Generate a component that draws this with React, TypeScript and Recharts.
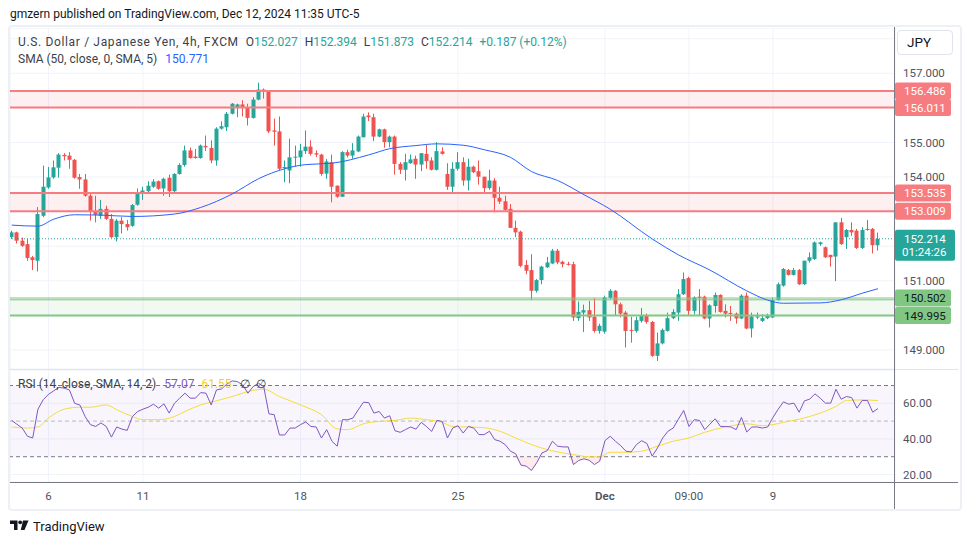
import React from 'react';
import { ComposedChart, Bar, Line, Area, XAxis, YAxis, CartesianGrid, ReferenceLine, ReferenceArea } from 'recharts';

const FONT = 'Roboto, "Noto Sans", sans-serif';

// USD/JPY 4h candles, Nov 4 21:00 -> Dec 12 09:00
const opens = [
  152.26, 152.40, 152.16, 152.06, 151.68, 151.58, 152.88, 153.70, 153.99, 154.27,
  154.64, 154.62, 154.50, 154.00, 153.93, 153.46, 153.01, 152.88, 153.08, 152.79,
  152.26, 152.74, 152.64, 152.59, 153.20, 153.51, 153.59, 153.72, 153.88, 153.67,
  153.98, 153.59, 154.09, 154.35, 154.77, 154.59, 154.55, 154.90, 154.84, 154.48,
  155.40, 155.44, 155.83, 156.00, 156.10, 156.02, 155.71, 156.24, 156.53, 156.46,
  155.35, 155.32, 154.27, 154.19, 154.57, 154.57, 154.75, 154.88, 154.69, 154.65,
  154.10, 154.43, 153.75, 153.43, 154.72, 154.62, 154.74, 155.15, 155.78, 155.73,
  155.17, 155.38, 155.01, 155.17, 154.38, 154.21, 154.40, 154.53, 154.36, 154.67,
  154.48, 154.21, 154.74, 154.09, 153.72, 154.24, 154.43, 153.90, 154.30, 154.17,
  154.01, 153.68, 153.90, 153.40, 153.30, 153.08, 152.53, 152.42, 151.46, 151.31,
  150.71, 151.02, 151.39, 151.50, 151.87, 151.55, 151.49, 151.48, 149.92, 150.08,
  150.15, 149.96, 149.55, 149.53, 150.50, 150.71, 150.32, 150.08, 149.58, 149.55,
  149.84, 150.00, 149.81, 148.83, 149.19, 149.55, 149.92, 150.08, 150.61, 151.08,
  150.13, 150.54, 150.54, 149.91, 150.27, 150.59, 150.13, 150.07, 150.05, 149.91,
  150.57, 149.62, 149.94, 149.84, 149.92, 149.94, 150.44, 150.86, 151.31, 151.17,
  151.31, 150.90, 151.58, 151.63, 152.06, 151.97, 151.75, 151.70, 152.69, 152.26,
  152.47, 152.45, 151.95, 152.47, 152.50, 152.027,
];
const highs = [
  152.45, 152.42, 152.25, 152.21, 151.72, 153.13, 154.33, 154.29, 154.48, 154.69,
  154.69, 154.72, 154.52, 154.09, 154.09, 153.51, 153.46, 153.34, 153.17, 152.93,
  152.79, 152.84, 152.76, 153.22, 153.67, 153.72, 153.88, 153.94, 153.90, 153.98,
  154.07, 154.11, 154.40, 154.91, 154.85, 154.81, 154.94, 155.20, 155.06, 155.44,
  155.61, 155.88, 156.14, 156.12, 156.22, 156.12, 156.31, 156.73, 156.56, 156.48,
  155.69, 155.75, 154.48, 155.11, 154.91, 154.96, 155.35, 155.06, 154.77, 154.67,
  154.52, 154.65, 153.76, 154.75, 154.79, 154.98, 155.20, 155.83, 155.87, 155.83,
  155.40, 155.40, 155.20, 155.20, 154.43, 154.67, 154.65, 154.62, 154.69, 154.94,
  154.57, 155.01, 154.86, 154.40, 154.43, 154.72, 154.57, 154.53, 154.33, 154.48,
  154.01, 154.21, 153.97, 153.72, 153.46, 153.22, 152.74, 152.45, 151.60, 151.77,
  151.05, 151.43, 151.69, 151.92, 151.92, 151.58, 151.55, 151.55, 150.40, 150.31,
  150.42, 150.50, 149.76, 150.57, 150.76, 150.73, 150.37, 150.13, 149.96, 149.96,
  150.21, 150.05, 149.84, 149.50, 149.62, 150.08, 150.18, 150.76, 151.24, 151.12,
  150.55, 150.76, 150.57, 150.32, 150.66, 150.61, 150.32, 150.27, 150.08, 150.61,
  150.66, 150.08, 150.08, 150.03, 150.05, 150.52, 150.95, 151.37, 151.34, 151.37,
  151.34, 151.58, 151.82, 152.14, 152.13, 151.99, 151.75, 152.69, 152.82, 152.50,
  152.69, 152.50, 152.55, 152.76, 152.53, 152.394,
];
const lows = [
  152.21, 152.08, 151.98, 151.58, 151.31, 151.27, 152.84, 153.66, 153.95, 153.98,
  154.48, 154.24, 153.95, 153.66, 153.43, 152.74, 152.69, 152.79, 152.76, 152.24,
  152.14, 152.37, 152.45, 152.56, 153.17, 153.34, 153.56, 153.69, 153.63, 153.46,
  153.42, 153.56, 154.07, 154.30, 154.53, 154.53, 154.53, 154.75, 154.40, 154.33,
  155.37, 155.33, 155.81, 155.73, 155.75, 155.49, 155.69, 156.22, 156.27, 155.27,
  154.91, 154.19, 153.85, 153.82, 154.30, 154.30, 154.67, 154.62, 154.58, 154.04,
  153.95, 153.27, 153.40, 153.43, 154.57, 154.53, 154.72, 155.15, 155.62, 155.04,
  155.15, 154.85, 154.86, 154.07, 154.09, 153.90, 154.38, 153.95, 154.17, 154.24,
  154.19, 154.19, 154.65, 153.63, 153.53, 154.19, 153.75, 153.61, 154.11, 153.78,
  153.51, 153.63, 152.98, 153.22, 153.03, 152.53, 152.26, 151.39, 151.19, 150.44,
  150.66, 150.90, 151.37, 151.48, 151.48, 151.39, 151.44, 149.84, 149.84, 149.52,
  149.84, 149.50, 149.47, 149.47, 150.47, 149.99, 149.94, 149.07, 149.21, 149.50,
  149.79, 149.76, 148.80, 148.68, 149.16, 149.53, 149.89, 149.84, 150.59, 149.99,
  150.03, 149.99, 149.89, 149.65, 150.08, 150.08, 149.94, 149.84, 149.76, 149.89,
  149.60, 149.36, 149.89, 149.81, 149.89, 149.92, 150.42, 150.83, 151.15, 151.15,
  150.88, 150.88, 151.53, 151.60, 152.01, 151.66, 151.41, 150.99, 152.04, 151.92,
  152.30, 151.92, 151.92, 152.45, 151.79, 151.873,
];
const closes = [
  152.40, 152.16, 152.01, 151.66, 151.60, 152.93, 153.72, 153.99, 154.28, 154.65,
  154.60, 154.50, 153.98, 153.93, 153.46, 153.01, 152.91, 153.08, 152.79, 152.26,
  152.74, 152.64, 152.55, 153.19, 153.51, 153.61, 153.75, 153.87, 153.66, 153.95,
  153.59, 154.09, 154.35, 154.77, 154.55, 154.55, 154.91, 154.86, 154.48, 155.40,
  155.47, 155.83, 156.12, 156.10, 156.02, 155.71, 156.24, 156.53, 156.48, 155.32,
  155.31, 154.24, 154.29, 154.57, 154.59, 154.77, 154.88, 154.67, 154.65, 154.09,
  154.45, 153.72, 153.43, 154.72, 154.62, 154.77, 155.17, 155.75, 155.73, 155.17,
  155.38, 155.01, 155.17, 154.38, 154.21, 154.43, 154.51, 154.36, 154.69, 154.46,
  154.21, 154.75, 154.67, 153.72, 154.24, 154.43, 153.90, 154.30, 154.14, 154.01,
  153.68, 153.90, 153.40, 153.29, 153.05, 152.53, 152.40, 151.43, 151.29, 150.71,
  151.02, 151.41, 151.53, 151.87, 151.53, 151.48, 151.48, 149.94, 150.10, 150.15,
  149.94, 149.55, 149.70, 150.52, 150.71, 150.32, 150.05, 149.55, 149.56, 149.86,
  150.00, 149.81, 148.83, 149.19, 149.58, 149.92, 150.10, 150.61, 151.05, 150.13,
  150.52, 150.50, 149.91, 150.29, 150.59, 150.10, 150.05, 150.05, 149.91, 150.57,
  149.62, 149.97, 149.97, 149.92, 150.00, 150.44, 150.90, 151.34, 151.17, 151.31,
  150.90, 151.58, 151.68, 152.11, 152.11, 151.68, 151.68, 152.69, 152.06, 152.47,
  152.40, 151.95, 152.47, 152.50, 152.03, 152.214,
];

// SMA(50) read at sample candles
const smaIdx = [0, 5, 8, 12, 17, 23, 31, 36, 42, 47, 52, 56, 61, 68, 72, 77, 81, 86, 90, 95, 99, 104, 109, 114, 122, 127, 133, 140, 144, 147, 154, 158, 162, 165];
const smaVal = [152.61, 152.58, 152.78, 152.91, 152.90, 152.86, 152.93, 153.12, 153.51, 153.95, 154.24, 154.36, 154.40, 154.64, 154.82, 154.91, 154.96, 154.92, 154.79, 154.57, 154.16, 153.90, 153.49, 153.07, 152.21, 151.75, 151.31, 150.71, 150.44, 150.35, 150.36, 150.45, 150.64, 150.771];

const rsiValues = [
  50.4, 48.2, 46.1, 41.5, 40.5, 56.7, 62.0, 65.0, 67.0, 69.0,
  68.5, 67.5, 60.0, 59.0, 52.5, 48.0, 47.0, 49.0, 47.0, 41.0,
  46.7, 45.5, 44.8, 52.6, 55.4, 56.7, 57.8, 59.5, 57.3, 59.7,
  54.5, 60.0, 62.9, 65.7, 62.9, 62.9, 66.0, 65.7, 59.1, 67.5,
  68.1, 70.9, 72.6, 72.2, 70.3, 65.7, 69.4, 71.3, 69.4, 54.1,
  53.6, 42.2, 42.2, 46.1, 46.1, 48.0, 49.5, 47.0, 46.7, 40.5,
  45.2, 38.7, 35.9, 50.8, 50.8, 51.7, 56.3, 60.6, 60.4, 54.5,
  55.4, 51.7, 53.0, 44.6, 43.7, 45.2, 46.7, 45.5, 49.3, 47.0,
  44.2, 50.4, 49.8, 40.5, 46.1, 47.4, 43.3, 47.0, 46.1, 42.4,
  42.4, 44.3, 39.6, 38.7, 36.8, 33.1, 31.6, 25.3, 24.7, 22.3,
  26.6, 32.1, 33.4, 38.7, 35.9, 35.5, 35.5, 25.6, 27.9, 28.8,
  28.0, 25.6, 27.5, 39.0, 41.5, 38.7, 36.2, 33.1, 32.7, 36.8,
  39.0, 37.4, 30.3, 34.9, 40.5, 44.3, 46.1, 51.1, 56.0, 47.0,
  50.8, 50.4, 45.2, 48.3, 51.3, 47.0, 47.0, 46.7, 45.2, 52.1,
  43.9, 46.7, 46.7, 46.1, 46.7, 52.1, 56.7, 60.8, 59.5, 60.1,
  55.0, 61.4, 62.3, 65.3, 62.9, 60.1, 60.1, 67.9, 62.3, 63.8,
  63.2, 57.3, 61.6, 61.6, 55.0, 57.07,
];

// RSI-based MA read at sample candles
const rsiMaIdx = [0, 3, 5, 7, 10, 13, 15, 18, 20, 23, 25, 28, 31, 33, 36, 39, 42, 45, 48, 51, 55, 59, 62, 64, 67, 70, 73, 76, 79, 82, 84, 87, 90, 93, 96, 99, 102, 105, 108, 110, 112, 114, 117, 120, 123, 126, 129, 132, 136, 140, 143, 145, 147, 150, 154, 157, 159, 162, 165];
const rsiMaVal = [46.7, 46.1, 46.7, 51.7, 56.7, 57.8, 57.8, 59.1, 56.4, 52.6, 50.8, 50.8, 52.6, 55.4, 59.1, 61.4, 63.8, 66.6, 67.9, 63.8, 59.1, 53.6, 45.6, 45.2, 48.5, 49.8, 50.4, 51.7, 50.8, 49.3, 47.0, 46.7, 46.3, 44.3, 40.5, 36.8, 34.0, 32.1, 30.7, 29.9, 29.9, 32.5, 32.5, 33.1, 35.9, 38.7, 40.5, 43.7, 46.7, 48.5, 47.4, 48.0, 49.3, 51.1, 54.5, 58.2, 61.6, 61.9, 61.55];

const timeTicks = [7, 25, 55, 85, 113, 129, 145];
const timeLabels = ['6', '11', '18', '25', 'Dec', '09:00', '9'];
const priceGrid = [149, 150, 151, 152, 153, 154, 155, 156, 157, 158];
const priceShown = [149, 151, 154, 155, 157];
const rsiTicks = [20, 40, 60];

const zoneHigh = [156.011, 156.486];
const zoneMid = [153.009, 153.535];
const zoneLow = [149.995, 150.502];
const lastPrice = 152.214;

const smaMap = new Map(smaIdx.map((k, j) => [k, smaVal[j]]));
const rsiMaMap = new Map(rsiMaIdx.map((k, j) => [k, rsiMaVal[j]]));

const rows = opens.map((o, i) => ({
  i,
  o,
  h: highs[i],
  l: lows[i],
  c: closes[i],
  sma: smaMap.has(i) ? smaMap.get(i) : null,
  rsi: rsiValues[i],
  rsiMa: rsiMaMap.has(i) ? rsiMaMap.get(i) : null,
}));

const X_DOMAIN = [-0.324, 168.25];
const P_DOMAIN = [148.449, 158.31];
const R_DOMAIN = [15.79, 78.71];
const UP = '#26a69a';
const DOWN = '#ef5350';
const RED_LINE = '#f77c80';
const GREEN_LINE = '#81c784';

function Candle(props: any) {
  const { x, y, width, height, payload } = props;
  if (payload == null || x == null || y == null) return null;
  const { o, h, l, c } = payload;
  const top = Math.min(y, y + height);
  const bot = Math.max(y, y + height);
  const span = h - l;
  const py = (v: number) => (span > 0 ? top + ((h - v) / span) * (bot - top) : top);
  const cx = Math.floor(x + width / 2);
  const color = c >= o ? UP : DOWN;
  const bTop = py(Math.max(o, c));
  const bBot = py(Math.min(o, c));
  return (
    <g>
      <line x1={cx + 0.5} x2={cx + 0.5} y1={top} y2={bot} stroke={color} strokeWidth={1} />
      <rect x={cx - 1.5} y={bTop} width={4} height={Math.max(1, bBot - bTop)} fill={color} />
    </g>
  );
}

function Tag(props: any) {
  const { viewBox, text, sub, bg, color } = props;
  if (!viewBox) return null;
  const x = viewBox.x + viewBox.width;
  const y = viewBox.y;
  const h = sub ? 31 : 17;
  const top = sub ? y - 9 : y - 8.5;
  return (
    <g>
      <rect x={x} y={top} width={sub ? 60 : 56} height={h} rx={2} fill={bg} />
      <text x={x + 9} y={sub ? y : top + h / 2} dy="0.35em" fontSize={11.5} fill={color}>
        {text}
      </text>
      {sub && (
        <text x={x + 7} y={y + 13.5} dy="0.35em" fontSize={11.5} fill={color}>
          {sub}
        </text>
      )}
    </g>
  );
}

function TimeTick(props: any) {
  const { x, y, payload } = props;
  const idx = timeTicks.indexOf(payload.value);
  const label = idx >= 0 ? timeLabels[idx] : '';
  return (
    <text x={x} y={y} dy="0.71em" textAnchor="middle" fontSize={11.5} fill="#50535e" fontWeight={label === 'Dec' ? 600 : 400}>
      {label}
    </text>
  );
}

const abs = (left: number, top: number, extra: any = {}) => ({ position: 'absolute' as const, left, top, ...extra });

export default function App() {
  return (
    <div style={{ position: 'absolute', left: 0, top: 0, width: 970, height: 545, background: '#fff', overflow: 'hidden', fontFamily: FONT, color: '#131722' }}>
      <div style={abs(10, 6, { fontSize: 12, lineHeight: '16px', whiteSpace: 'nowrap' })}>
        gmzern published on TradingView.com, Dec 12, 2024 11:35 UTC-5
      </div>

      <div style={abs(8, 25, { width: 950, height: 482, border: '2px solid #edf0f4', borderRadius: 4 })} />

      <div style={abs(10, 28)}>
        <ComposedChart width={948} height={341} data={rows} margin={{ top: 0, right: 0, bottom: 0, left: 0 }}>
          <XAxis type="number" dataKey="i" domain={X_DOMAIN} ticks={timeTicks} hide allowDataOverflow />
          <YAxis
            type="number"
            orientation="right"
            width={63}
            domain={P_DOMAIN}
            ticks={priceGrid}
            interval={0}
            allowDataOverflow
            axisLine={false}
            tickLine={false}
            tickSize={0}
            tickMargin={8}
            tick={{ fontSize: 11.5, fill: '#50535e', textAnchor: 'start' }}
            tickFormatter={(v: number) => (priceShown.includes(v) ? v.toFixed(3) : '')}
          />
          <CartesianGrid stroke="#f0f3fa" />
          <ReferenceArea y1={zoneHigh[0]} y2={zoneHigh[1]} fill="rgba(242,54,69,0.15)" stroke="none" />
          <ReferenceArea y1={zoneMid[0]} y2={zoneMid[1]} fill="rgba(242,54,69,0.15)" stroke="none" />
          <ReferenceArea y1={zoneLow[0]} y2={zoneLow[1]} fill="rgba(76,175,80,0.15)" stroke="none" />
          <ReferenceLine y={zoneHigh[1]} stroke={RED_LINE} strokeWidth={2} label={<Tag text="156.486" bg={RED_LINE} color="#fff" />} />
          <ReferenceLine y={zoneHigh[0]} stroke={RED_LINE} strokeWidth={2} label={<Tag text="156.011" bg={RED_LINE} color="#fff" />} />
          <ReferenceLine y={zoneMid[1]} stroke={RED_LINE} strokeWidth={2} label={<Tag text="153.535" bg={RED_LINE} color="#fff" />} />
          <ReferenceLine y={zoneMid[0]} stroke={RED_LINE} strokeWidth={2} label={<Tag text="153.009" bg={RED_LINE} color="#fff" />} />
          <ReferenceLine y={150.45} stroke={GREEN_LINE} strokeWidth={1} />
          <ReferenceLine y={zoneLow[1]} stroke={GREEN_LINE} strokeWidth={1} label={<Tag text="150.502" bg={GREEN_LINE} color="#131722" />} />
          <ReferenceLine y={zoneLow[0]} stroke={GREEN_LINE} strokeWidth={2} label={<Tag text="149.995" bg={GREEN_LINE} color="#131722" />} />
          <Line dataKey="sma" type="monotone" connectNulls dot={false} stroke="#2962ff" strokeWidth={1} isAnimationActive={false} />
          <Bar dataKey={(d: any) => [d.l, d.h]} barSize={5} shape={(p: any) => <Candle {...p} />} isAnimationActive={false} />
          <ReferenceLine y={lastPrice} stroke={UP} strokeDasharray="1 2" label={<Tag text="152.214" sub="01:24:26" bg={UP} color="#fff" />} />
        </ComposedChart>
      </div>

      <div style={abs(10, 369, { width: 948, height: 1, background: '#e0e3eb' })} />

      <div style={abs(10, 370)}>
        <ComposedChart width={948} height={138} data={rows} margin={{ top: 0, right: 0, bottom: 0, left: 0 }}>
          <XAxis
            type="number"
            dataKey="i"
            domain={X_DOMAIN}
            ticks={timeTicks}
            interval={0}
            allowDataOverflow
            height={26}
            axisLine={false}
            tickLine={false}
            tickSize={6}
            tickMargin={4}
            tick={<TimeTick />}
          />
          <YAxis
            type="number"
            orientation="right"
            width={63}
            domain={R_DOMAIN}
            ticks={rsiTicks}
            interval={0}
            allowDataOverflow
            axisLine={false}
            tickLine={false}
            tickSize={0}
            tickMargin={8}
            tick={{ fontSize: 11.5, fill: '#50535e', textAnchor: 'start' }}
            tickFormatter={(v: number) => v.toFixed(2)}
          />
          <CartesianGrid stroke="#f0f3fa" />
          <ReferenceArea y1={30} y2={70} fill="rgba(126,87,194,0.1)" stroke="none" />
          <ReferenceLine y={70} stroke="#787b86" strokeDasharray="4 3" />
          <ReferenceLine y={50} stroke="rgba(120,123,134,0.5)" strokeDasharray="4 3" />
          <ReferenceLine y={30} stroke="#787b86" strokeDasharray="4 3" />
          <Area dataKey={(d: any) => [Math.min(d.rsi, 30), 30]} type="linear" stroke="none" fill="rgba(242,54,69,0.16)" isAnimationActive={false} />
          <Area dataKey={(d: any) => [70, Math.max(d.rsi, 70)]} type="linear" stroke="none" fill="rgba(38,166,154,0.14)" isAnimationActive={false} />
          <Line dataKey="rsiMa" type="monotone" connectNulls dot={false} stroke="#f5dc3c" strokeWidth={1} isAnimationActive={false} />
          <Line dataKey="rsi" type="linear" dot={false} stroke="#7e57c2" strokeWidth={1} isAnimationActive={false} />
        </ComposedChart>
      </div>

      <div style={abs(10, 482, { width: 948, height: 1, background: '#787b86' })} />
      <div style={abs(894, 27, { width: 1, height: 482, background: '#787b86' })} />

      <div style={abs(897, 30, { width: 56, height: 25, border: '1px solid #e0e3eb', borderRadius: 4, boxSizing: 'border-box', fontSize: 13.5, lineHeight: '23px', paddingLeft: 9 })}>
        JPY
      </div>

      <div style={abs(18, 34, { fontSize: 12, lineHeight: '16px', whiteSpace: 'nowrap', color: '#3b3f4a' })}>
        <span style={{ letterSpacing: 0.65 }}>U.S. Dollar / Japanese Yen, 4h, FXCM</span>
        <span style={{ marginLeft: 7 }}>O</span><span style={{ color: UP }}>152.027</span>
        <span style={{ marginLeft: 7 }}>H</span><span style={{ color: UP }}>152.394</span>
        <span style={{ marginLeft: 7 }}>L</span><span style={{ color: UP }}>151.873</span>
        <span style={{ marginLeft: 7 }}>C</span><span style={{ color: UP }}>152.214</span>
        <span style={{ marginLeft: 7, color: UP }}>+0.187 (+0.12%)</span>
      </div>
      <div style={abs(18, 51, { fontSize: 12, lineHeight: '16px', whiteSpace: 'nowrap', color: '#3b3f4a' })}>
        <span>SMA (50, close, 0, SMA, 5)</span>
        <span style={{ marginLeft: 8, color: '#2962ff' }}>150.771</span>
      </div>
      <div style={abs(18, 376, { fontSize: 12, lineHeight: '16px', whiteSpace: 'nowrap', color: '#3b3f4a' })}>
        <span>RSI (14, close, SMA, 14, 2)</span>
        <span style={{ marginLeft: 8, color: '#7e57c2' }}>57.07</span>
        <span style={{ marginLeft: 7, color: '#f2d12e' }}>61.55</span>
        <span style={{ marginLeft: 8 }}>∅</span>
        <span style={{ marginLeft: 6 }}>∅</span>
      </div>

      <svg style={abs(10, 520)} width={20} height={11} viewBox="0 0 20 11">
        <path d="M0 0.5 H7.5 V10 H4 V4 H0 Z" fill="#131722" />
        <circle cx={10.2} cy={2.3} r={1.9} fill="#131722" />
        <path d="M13 0.5 H18.5 L14.5 10 H10.8 Z" fill="#131722" />
      </svg>
      <div style={abs(33, 518, { fontSize: 13, lineHeight: '18px', color: '#131722' })}>TradingView</div>
    </div>
  );
}
